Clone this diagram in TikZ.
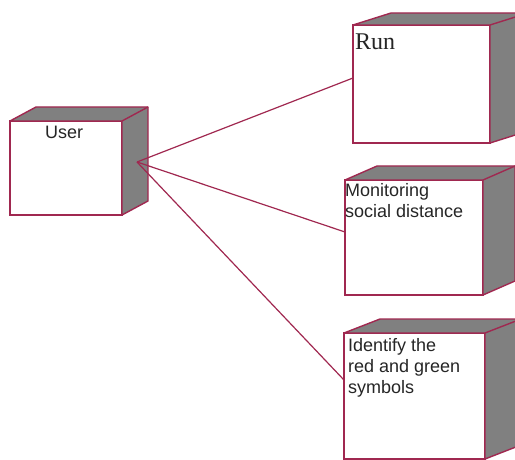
\documentclass[tikz,border=0pt]{standalone}
\usepackage{fontspec}
\setmainfont{Liberation Sans}
\newfontfamily\runfont{Liberation Serif}
\definecolor{edge}{RGB}{160,40,80}
\definecolor{shade}{RGB}{128,128,128}
\begin{document}
\begin{tikzpicture}[x=1pt,y=-1pt,
  face/.style={draw=edge, line width=1.4pt, fill=white, inner sep=0pt, outer sep=0pt, anchor=north west},
  sideface/.style={fill=shade, draw=edge, line width=1.4pt, line join=round},
  lbl/.style={anchor=north west, inner sep=0pt, align=left, font=\fontsize{18}{21}\selectfont, text=black!85},
  conn/.style={draw=edge, line width=1.2pt}]
\useasboundingbox (0,0) rectangle (515,460);
\clip (0,0) rectangle (515,460);
% User
\node[face, minimum width=112pt, minimum height=94pt] (user) at (10,121) {};
\fill[sideface] (user.north west) -- ++(26,-14) -- ++(112,0) -- ++(0,94) -- (user.south east) -- (user.north east) -- cycle;
\draw[edge, line width=1.4pt] (user.north east) -- ++(26,-14);
% Run
\node[face, minimum width=137pt, minimum height=118pt] (run) at (353,25) {};
\fill[sideface] (run.north west) -- ++(38,-12) -- ++(137,0) -- ++(0,118) -- (run.south east) -- (run.north east) -- cycle;
\draw[edge, line width=1.4pt] (run.north east) -- ++(38,-12);
% Monitoring
\node[face, minimum width=138pt, minimum height=115pt] (mon) at (345,180) {};
\fill[sideface] (mon.north west) -- ++(32,-14) -- ++(138,0) -- ++(0,115) -- (mon.south east) -- (mon.north east) -- cycle;
\draw[edge, line width=1.4pt] (mon.north east) -- ++(32,-14);
% Identify
\node[face, minimum width=141pt, minimum height=126pt] (ident) at (344,333) {};
\fill[sideface] (ident.north west) -- ++(36,-14) -- ++(141,0) -- ++(0,126) -- (ident.south east) -- (ident.north east) -- cycle;
\draw[edge, line width=1.4pt] (ident.north east) -- ++(36,-14);
% texts
\node[lbl, anchor=base west] (tuser) at (45,139) {User};
\node[lbl, anchor=base west, font=\runfont\fontsize{24}{26}\selectfont] (trun) at (355,50) {Run};
\node[lbl, anchor=base west] (tmon) at (345,218) {Monitoring\\social distance};
\node[lbl, anchor=base west] (tid) at (348,393) {Identify the\\red and green\\symbols};
% connectors
\coordinate (hub) at (137,162);
\coordinate (prun) at (353,78);
\coordinate (pmon) at (345,232);
\coordinate (pid) at (344,380);
\draw[conn] (hub) -- (prun);
\draw[conn] (hub) -- (pmon);
\draw[conn] (hub) -- (pid);
\end{tikzpicture}
\end{document}
